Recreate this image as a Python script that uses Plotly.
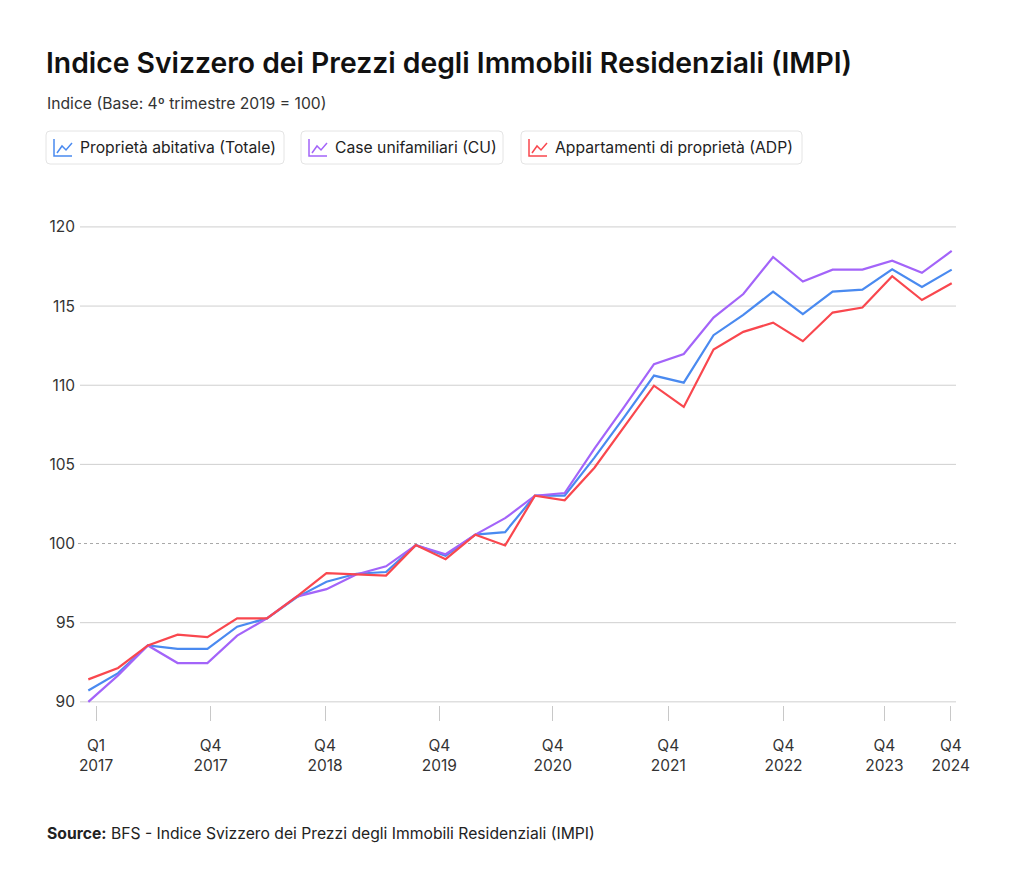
import plotly.graph_objects as go

# ---------------- data ----------------
series_names = ["Proprietà abitativa (Totale)", "Case unifamiliari (CU)", "Appartamenti di proprietà (ADP)"]
series_colors = ["#4A8AF0", "#A364F9", "#F9474E"]

totale = [90.72, 91.81, 93.56, 93.35, 93.35, 94.75, 95.27, 96.60, 97.59, 98.09,
          98.20, 99.90, 99.22, 100.56, 100.72, 103.02, 103.02, 105.43, 107.99, 110.61,
          110.16, 113.16, 114.44, 115.91, 114.49, 115.91, 116.04, 117.32, 116.21, 117.30]
cu = [90.00, 91.67, 93.56, 92.45, 92.45, 94.18, 95.27, 96.65, 97.12, 98.04,
      98.56, 99.90, 99.32, 100.56, 101.60, 103.02, 103.19, 106.00, 108.63, 111.33,
      111.97, 114.27, 115.76, 118.10, 116.55, 117.30, 117.30, 117.87, 117.10, 118.48]
adp = [91.42, 92.14, 93.56, 94.24, 94.09, 95.27, 95.27, 96.65, 98.13, 98.04,
       97.98, 99.90, 99.01, 100.56, 99.88, 103.02, 102.73, 104.79, 107.38, 109.97,
       108.63, 112.25, 113.37, 113.95, 112.78, 114.59, 114.91, 116.89, 115.38, 116.44]

x_tick_text = ["Q1<br>2017", "Q4<br>2017", "Q4<br>2018", "Q4<br>2019", "Q4<br>2020",
               "Q4<br>2021", "Q4<br>2022", "Q4<br>2023", "Q4<br>2024"]
y_ticks = [90, 95, 100, 105, 110, 115, 120]

# ---------------- layout geometry ----------------
W, H = 1024, 894
ML, MR, MT, MB = 80, 68, 219, 189
PW, PH = W - ML - MR, H - MT - MB

# position of x tick labels along the index axis (layout positions)
x_tick_pos = [0.26, 4.11, 7.95, 11.79, 15.60, 19.48, 23.35, 26.74, 28.97]


def px(x):
    return (x - ML) / PW


def py(y):
    return (H - MB - y) / PH


FONT = "Inter, 'Noto Sans', sans-serif"
BODY = 15.7

fig = go.Figure()
for name, vals, col in zip(series_names, [totale, cu, adp], series_colors):
    fig.add_trace(go.Scatter(
        x=list(range(len(vals))), y=vals, mode="lines", name=name,
        line=dict(color=col, width=2.2), showlegend=False,
        hovertemplate="%{y:.2f}<extra>" + name + "</extra>"))

shapes = []
# horizontal gridlines
for v in y_ticks:
    shapes.append(dict(type="line", xref="paper", yref="y", x0=px(78) if v == 100 else 0, x1=1,
                       y0=v, y1=v, layer="below",
                       line=dict(color="#A8A8A8" if v == 100 else "#CFCFCF", width=1,
                                 dash="dot" if v == 100 else "solid")))


def rounded_rect(x0, y0, x1, y1, r=4):
    X0, X1 = px(x0), px(x1)
    Y0, Y1 = py(y0), py(y1)
    rx, ry = r / PW, r / PH
    return (f"M {X0+rx},{Y0} L {X1-rx},{Y0} Q {X1},{Y0} {X1},{Y0-ry} "
            f"L {X1},{Y1+ry} Q {X1},{Y1} {X1-rx},{Y1} L {X0+rx},{Y1} "
            f"Q {X0},{Y1} {X0},{Y1+ry} L {X0},{Y0-ry} Q {X0},{Y0} {X0+rx},{Y0} Z")


annotations = []
box_lefts = [46, 301, 521]
box_rights = [284, 503, 802]
for bl, br, name, col in zip(box_lefts, box_rights, series_names, series_colors):
    shapes.append(dict(type="path", xref="paper", yref="paper", path=rounded_rect(bl, 131, br, 164),
                       line=dict(color="#E4E4E4", width=1), fillcolor="white"))
    ix = bl + 8
    # icon axes
    shapes.append(dict(type="path", xref="paper", yref="paper",
                       path=f"M {px(ix)},{py(139)} L {px(ix)},{py(156)} L {px(ix+18)},{py(156)}",
                       line=dict(color=col, width=1.5)))
    # icon zigzag
    shapes.append(dict(type="path", xref="paper", yref="paper",
                       path=(f"M {px(ix+3)},{py(153)} L {px(ix+8)},{py(146)} "
                             f"L {px(ix+12)},{py(150)} L {px(ix+18)},{py(143)}"),
                       line=dict(color=col, width=1.5)))
    annotations.append(dict(text=name, xref="paper", yref="paper", x=px(bl + 32), y=py(148),
                            xanchor="left", yanchor="middle", showarrow=False,
                            font=dict(family=FONT, size=BODY, color="#222222")))

annotations.append(dict(text="Indice Svizzero dei Prezzi degli Immobili Residenziali (IMPI)",
                        xref="paper", yref="paper", x=px(44), y=py(63), xanchor="left", yanchor="middle",
                        showarrow=False, font=dict(family=FONT, size=28.3, color="#111111", weight=600)))
annotations.append(dict(text="Indice (Base: 4º trimestre 2019 = 100)",
                        xref="paper", yref="paper", x=px(45), y=py(104), xanchor="left", yanchor="middle",
                        showarrow=False, font=dict(family=FONT, size=BODY, color="#333333")))
annotations.append(dict(text="<b>Source:</b> BFS - Indice Svizzero dei Prezzi degli Immobili Residenziali (IMPI)",
                        xref="paper", yref="paper", x=px(45), y=py(833), xanchor="left", yanchor="middle",
                        showarrow=False, font=dict(family=FONT, size=BODY, color="#222222")))

fig.update_layout(
    width=W, height=H, margin=dict(l=ML, r=MR, t=MT, b=MB),
    paper_bgcolor="white", plot_bgcolor="white",
    shapes=shapes, annotations=annotations, showlegend=False,
    font=dict(family=FONT, color="#333333"),
    xaxis=dict(range=[-0.279, 29.144], tickmode="array", tickvals=x_tick_pos, ticktext=x_tick_text,
               showgrid=False, zeroline=False, showline=False,
               ticks="outside", ticklen=15, tickcolor="#C8C8C8", tickwidth=1,
               ticklabelstandoff=11, tickfont=dict(family=FONT, size=15.5, color="#333333")),
    yaxis=dict(range=[89.8, 120.5], tickmode="array", tickvals=y_ticks,
               showgrid=False, zeroline=False, showline=False, ticks="",
               ticklabelstandoff=4, tickfont=dict(family=FONT, size=15.5, color="#333333")),
)

fig.write_html("out.html")
